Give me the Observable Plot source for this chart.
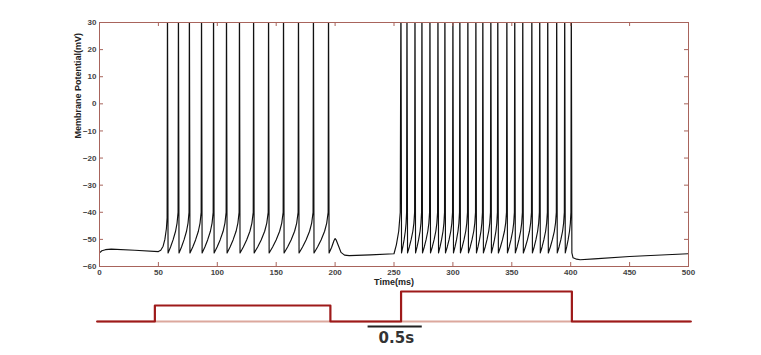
<!DOCTYPE html>
<html>
<head>
<meta charset="utf-8">
<script src="https://cdn.jsdelivr.net/npm/d3@7"></script>
<script src="https://cdn.jsdelivr.net/npm/@observablehq/plot@0.6"></script>
<style>
  body { margin: 0; background: #fff; }
  #chart { width: 761px; height: 355px; overflow: hidden; }
  svg { display: block; }
</style>
</head>
<body>
<div id="chart"></div>
<script>
// ---- Data ----
const xTicks = [0, 50, 100, 150, 200, 250, 300, 350, 400, 450, 500];
const yTicks = [-60, -50, -40, -30, -20, -10, 0, 10, 20, 30];

// spike peak times (ms)
const spikeTimes1 = [57.7, 67.0, 76.3, 86.6, 96.8, 107.8, 118.8, 130.8, 143.5, 156.2, 168.9, 181.6, 194.4];
const spikeTimes2 = [255.9, 261.0, 267.8, 273.7, 280.5, 287.3, 293.2, 300.0, 305.9, 312.7, 319.5, 325.4,
                     332.2, 338.1, 345.8, 352.5, 359.3, 367.0, 373.7, 380.5, 388.1, 394.9, 400.5];
const spikePeakV = 45;      // peaks run off the top of the axes
const resetV = -55;

// inter-spike recovery shape (fraction of the interval, mV)
const isiFrac = [0, 0.25, 0.5, 0.75, 0.9, 1];
const isiV = [-55, -52.8, -50.2, -47, -44, -40];

// resting / transition segments
const preT = [0, 2, 5, 10, 30, 50, 52, 54, 55.5, 56.8, 57.4];
const preV = [-55, -54.2, -53.8, -53.6, -54, -54.5, -54, -52.5, -50, -46, -42];
const midT = [197, 199, 200, 201, 203, 205, 208, 212, 230, 250, 252, 254, 255.3];
const midV = [-53, -50.5, -49.7, -50.3, -52.5, -54.8, -55.8, -56, -55.7, -55.3, -52, -47, -40];
const postT = [402, 405, 408, 420, 450, 500];
const postV = [-56.8, -57.3, -57.5, -57.2, -56.3, -55.3];

// stimulus protocol (relative amplitude)
const stimT = [-2, 47, 47, 196, 196, 256, 256, 401, 401, 502];
const stimA = [0, 0, 0.533, 0.533, 0, 0, 1, 1, 0, 0];
const scaleBarT = [228, 274];
const scaleBarLabel = "0.5s";

// ---- Build trace table ----
const trace = [];
const pushSeg = (T, V) => T.forEach((t, i) => trace.push({t, v: V[i]}));
function pushBurst(times) {
  times.forEach((t, k) => {
    trace.push({t, v: spikePeakV});
    trace.push({t: t + 0.5, v: resetV});
    if (k < times.length - 1) {
      const t0 = t + 0.5, t1 = times[k + 1] - 0.3;
      isiFrac.forEach((f, i) => { if (i > 0) trace.push({t: t0 + f * (t1 - t0), v: isiV[i]}); });
    }
  });
}
pushSeg(preT, preV);
pushBurst(spikeTimes1);
pushSeg(midT, midV);
pushBurst(spikeTimes2);
pushSeg(postT, postV);

const stim = stimT.map((t, i) => ({t, a: stimA[i]}));

// ---- Layout ----
const W = 761, ML = 99, MR = 73, MT = 22, MB = 24, H = 290;
const frameColor = "#a8645c";
const tlx = 4 * 500 / (W - ML - MR);
const tly = 4 * 90 / (H - MT - MB);
const labelFont = "'Liberation Sans', Arial, sans-serif";

const main = Plot.plot({
  width: W, height: H,
  marginLeft: ML, marginRight: MR, marginTop: MT, marginBottom: MB,
  x: {domain: [0, 500]},
  y: {domain: [-60, 30]},
  style: {fontFamily: labelFont, fontSize: "8px", fontWeight: "bold", color: "#444", background: "#fff"},
  marks: [
    Plot.line(trace, {x: "t", y: "v", stroke: "#111", strokeWidth: 1.15, clip: true}),
    Plot.ruleX(xTicks, {x: d => d, y1: -60, y2: -60 + tly, stroke: frameColor}),
    Plot.ruleX(xTicks, {x: d => d, y1: 30, y2: 30 - tly, stroke: frameColor}),
    Plot.ruleY(yTicks, {y: d => d, x1: 0, x2: tlx, stroke: frameColor}),
    Plot.ruleY(yTicks, {y: d => d, x1: 500, x2: 500 - tlx, stroke: frameColor}),
    Plot.frame({stroke: frameColor}),
    Plot.axisX({ticks: xTicks, tickSize: 0, tickPadding: 3, label: null}),
    Plot.axisY({ticks: yTicks, tickSize: 0, tickPadding: 3, label: null}),
    Plot.text(["Time(ms)"], {text: d => d, frameAnchor: "bottom", lineAnchor: "middle", dy: 16,
      fontSize: 9, fontWeight: "bold", fill: "#222"}),
    Plot.text(["Membrane Potential(mV)"], {text: d => d, frameAnchor: "left", rotate: -90,
      lineAnchor: "middle", dx: -21, dy: -6, fontSize: 9, fontWeight: "bold", fill: "#222"})
  ]
});

const stimPlot = Plot.plot({
  width: W, height: 65,
  marginLeft: ML, marginRight: MR, marginTop: 1, marginBottom: 10,
  x: {domain: [0, 500], axis: null},
  y: {domain: [-0.8, 1], axis: null},
  style: {background: "#fff"},
  marks: [
    Plot.ruleY([0], {y: d => d, x1: stimT[0], x2: stimT[stimT.length - 1], stroke: "#dca89d", strokeWidth: 2}),
    Plot.line(stim, {x: "t", y: "a", stroke: "#9e1a1a", strokeWidth: 2.2}),
    Plot.ruleY([-0.167], {y: d => d, x1: scaleBarT[0], x2: scaleBarT[1], stroke: "#222", strokeWidth: 2}),
    Plot.text([scaleBarLabel], {text: d => d, x: (scaleBarT[0] + scaleBarT[1]) / 2 + 1, y: -0.567,
      fontSize: 15, fontWeight: "bold", fill: "#333", fontFamily: "'DejaVu Sans', sans-serif"})
  ]
});

const chart = document.getElementById("chart");
chart.appendChild(main);
chart.appendChild(stimPlot);
</script>
</body>
</html>
